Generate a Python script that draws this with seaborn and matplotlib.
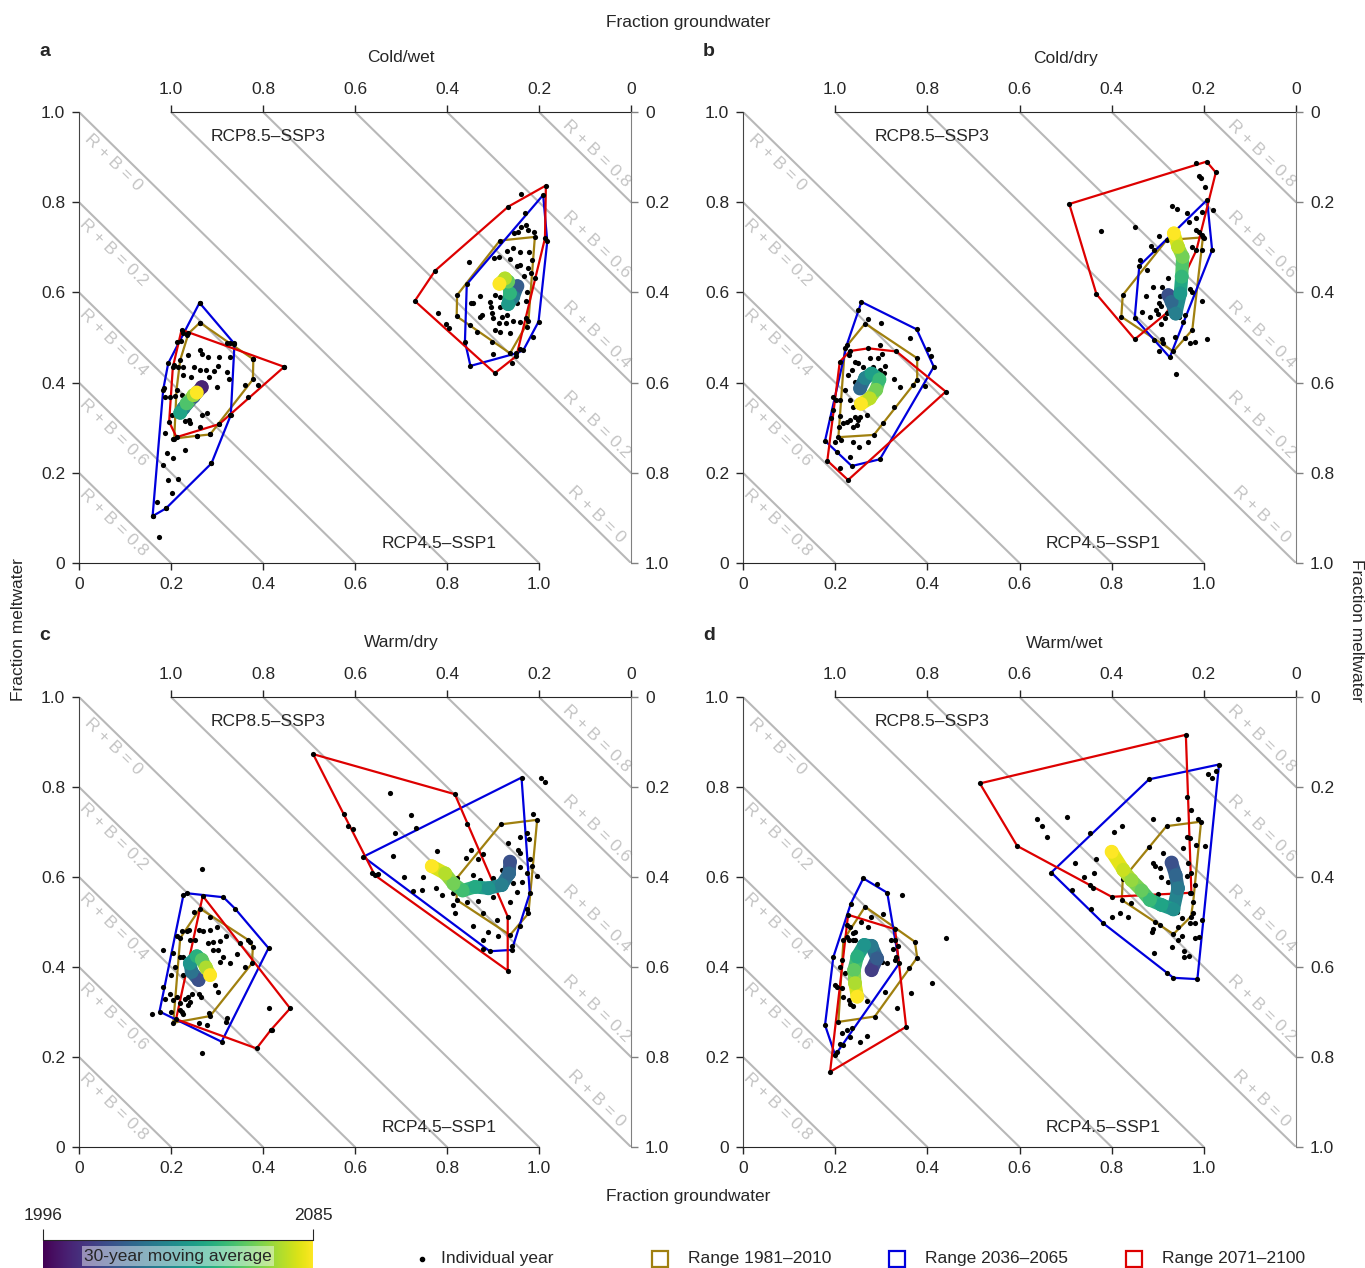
import numpy as np
import pandas as pd
import seaborn as sns
import matplotlib as mpl
import matplotlib.pyplot as plt
from matplotlib.collections import LineCollection
from matplotlib.lines import Line2D
from matplotlib.patches import Rectangle

sns.set_style('ticks')
plt.rcParams['font.family'] = ['Liberation Sans Narrow', 'Liberation Sans', 'DejaVu Sans']

OLIVE = '#a0800f'
BLUE = '#0000dd'
RED = '#dd0000'
GRID = '#b8b8b8'

tick_vals = [0, 0.2, 0.4, 0.6, 0.8, 1.0]
tick_labels = ['0', '0.2', '0.4', '0.6', '0.8', '1.0']
rb_levels = [0, 0.2, 0.4, 0.6, 0.8]
panel_letters = ['a', 'b', 'c', 'd']
panel_titles = ['Cold/wet', 'Cold/dry', 'Warm/dry', 'Warm/wet']

# ---------------- panel a ----------------
a_low_pts = [(0.262, 0.577), (0.263, 0.533), (0.227, 0.509), (0.234, 0.506), (0.212, 0.491), (0.221, 0.492),
             (0.321, 0.487), (0.338, 0.487), (0.379, 0.452), (0.446, 0.435), (0.263, 0.472), (0.267, 0.463),
             (0.281, 0.457), (0.238, 0.461), (0.305, 0.456), (0.328, 0.456), (0.216, 0.434), (0.227, 0.434),
             (0.249, 0.434), (0.262, 0.428), (0.276, 0.428), (0.294, 0.426), (0.302, 0.437), (0.321, 0.424),
             (0.327, 0.407), (0.283, 0.413), (0.243, 0.412), (0.226, 0.417), (0.207, 0.439), (0.185, 0.387),
             (0.187, 0.369), (0.198, 0.368), (0.209, 0.371), (0.223, 0.373), (0.299, 0.391), (0.361, 0.394),
             (0.368, 0.369), (0.390, 0.394), (0.278, 0.332), (0.267, 0.329), (0.240, 0.317), (0.231, 0.314),
             (0.241, 0.310), (0.263, 0.302), (0.256, 0.282), (0.285, 0.285), (0.305, 0.308), (0.328, 0.328),
             (0.205, 0.276), (0.202, 0.329), (0.187, 0.288), (0.191, 0.243), (0.205, 0.232), (0.230, 0.251),
             (0.183, 0.217), (0.288, 0.221), (0.194, 0.184), (0.216, 0.186), (0.202, 0.155), (0.170, 0.136),
             (0.189, 0.121), (0.160, 0.104), (0.174, 0.057)]
a_low_hist = [(0.263, 0.533), (0.328, 0.487), (0.379, 0.452), (0.378, 0.407), (0.285, 0.285), (0.256, 0.282),
              (0.207, 0.276), (0.212, 0.384), (0.220, 0.450), (0.238, 0.509)]
a_low_mid = [(0.262, 0.577), (0.338, 0.486), (0.330, 0.328), (0.288, 0.221), (0.189, 0.121), (0.160, 0.104),
             (0.183, 0.384), (0.194, 0.443)]
a_low_end = [(0.223, 0.517), (0.446, 0.435), (0.305, 0.308), (0.212, 0.279), (0.196, 0.313), (0.204, 0.434)]
a_low_ma = [(2005, 0.267, 0.390), (2020, 0.249, 0.369), (2035, 0.227, 0.343), (2048, 0.220, 0.333),
            (2060, 0.234, 0.354), (2072, 0.249, 0.372), (2085, 0.256, 0.378)]

a_up_pts = [(0.960, 0.819), (0.970, 0.775), (0.972, 0.750), (0.990, 0.733), (0.955, 0.735), (0.977, 0.738),
            (0.960, 0.744), (0.946, 0.731), (0.931, 0.692), (0.944, 0.698), (0.959, 0.689), (0.979, 0.690),
            (0.985, 0.672), (0.902, 0.676), (0.912, 0.679), (0.847, 0.667), (0.936, 0.673), (0.952, 0.658),
            (0.959, 0.661), (0.977, 0.653), (0.982, 0.644), (0.968, 0.636), (0.991, 0.631), (0.872, 0.593),
            (0.857, 0.577), (0.852, 0.576), (0.905, 0.594), (0.915, 0.590), (0.894, 0.579), (0.895, 0.567),
            (0.915, 0.568), (0.937, 0.588), (0.952, 0.576), (0.972, 0.580), (0.973, 0.601), (0.877, 0.550),
            (0.872, 0.545), (0.897, 0.554), (0.900, 0.543), (0.919, 0.546), (0.930, 0.550), (0.914, 0.533),
            (0.928, 0.532), (0.944, 0.537), (0.959, 0.535), (0.781, 0.555), (0.798, 0.530), (0.805, 0.521),
            (0.850, 0.528), (0.866, 0.512), (0.905, 0.517), (0.915, 0.513), (0.937, 0.509), (0.973, 0.524),
            (0.988, 0.502), (0.897, 0.489), (0.900, 0.463), (0.941, 0.443), (0.959, 0.475)]
a_up_hist = [(0.915, 0.715), (0.991, 0.723), (0.977, 0.536), (0.937, 0.465), (0.821, 0.547), (0.822, 0.594)]
a_up_mid = [(1.009, 0.816), (1.018, 0.713), (0.999, 0.535), (0.966, 0.472), (0.951, 0.465), (0.851, 0.437),
            (0.839, 0.491), (0.843, 0.618)]
a_up_end = [(1.015, 0.837), (1.013, 0.720), (0.971, 0.543), (0.951, 0.459), (0.904, 0.421), (0.730, 0.581),
            (0.774, 0.648), (0.933, 0.790)]
a_up_ma = [(2022, 0.953, 0.614), (2033, 0.944, 0.590), (2044, 0.933, 0.574), (2054, 0.937, 0.598),
           (2064, 0.933, 0.624), (2075, 0.926, 0.631), (2085, 0.914, 0.619)]

# ---------------- panel b ----------------
b_low_pts = [(0.250, 0.561), (0.272, 0.542), (0.299, 0.533), (0.297, 0.483), (0.362, 0.500), (0.402, 0.474),
             (0.409, 0.459), (0.231, 0.461), (0.243, 0.446), (0.250, 0.443), (0.275, 0.454), (0.293, 0.454),
             (0.301, 0.463), (0.297, 0.428), (0.308, 0.437), (0.306, 0.422), (0.283, 0.435), (0.261, 0.435),
             (0.236, 0.428), (0.228, 0.417), (0.243, 0.402), (0.254, 0.409), (0.341, 0.390), (0.369, 0.395),
             (0.328, 0.407), (0.395, 0.392), (0.221, 0.384), (0.196, 0.367), (0.202, 0.361), (0.210, 0.361),
             (0.232, 0.361), (0.239, 0.347), (0.268, 0.328), (0.254, 0.324), (0.243, 0.323), (0.232, 0.317),
             (0.225, 0.313), (0.210, 0.326), (0.196, 0.339), (0.192, 0.321), (0.218, 0.310), (0.239, 0.302),
             (0.247, 0.306), (0.250, 0.317), (0.304, 0.310), (0.328, 0.347), (0.209, 0.302), (0.212, 0.273),
             (0.200, 0.269), (0.239, 0.269), (0.252, 0.258), (0.272, 0.269), (0.210, 0.210), (0.232, 0.236),
             (0.203, 0.247)]
b_low_hist = [(0.265, 0.531), (0.378, 0.454), (0.378, 0.406), (0.284, 0.284), (0.207, 0.279), (0.221, 0.476)]
b_low_mid = [(0.257, 0.579), (0.377, 0.518), (0.414, 0.435), (0.297, 0.230), (0.236, 0.215), (0.178, 0.271),
             (0.225, 0.483)]
b_low_end = [(0.232, 0.470), (0.272, 0.476), (0.333, 0.469), (0.440, 0.380), (0.228, 0.184), (0.183, 0.227),
             (0.210, 0.446)]
b_low_ma = [(2026, 0.254, 0.387), (2036, 0.265, 0.410), (2046, 0.279, 0.420), (2056, 0.296, 0.407),
            (2066, 0.289, 0.384), (2076, 0.275, 0.365), (2085, 0.256, 0.353)]

b_up_pts = [(0.984, 0.886), (0.990, 0.858), (0.993, 0.853), (1.002, 0.834), (0.930, 0.792), (0.941, 0.784),
            (0.964, 0.777), (0.968, 0.757), (0.982, 0.764), (0.995, 0.779), (1.020, 0.783), (0.777, 0.737),
            (0.850, 0.744), (0.903, 0.724), (0.982, 0.738), (0.990, 0.735), (0.995, 0.727), (1.000, 0.720),
            (0.885, 0.703), (0.891, 0.695), (0.861, 0.672), (0.975, 0.701), (0.997, 0.694), (0.876, 0.650),
            (0.923, 0.631), (0.890, 0.613), (0.910, 0.612), (0.874, 0.592), (0.904, 0.591), (0.903, 0.576),
            (0.906, 0.569), (0.970, 0.607), (0.975, 0.600), (0.995, 0.582), (0.865, 0.557), (0.884, 0.546),
            (0.897, 0.561), (0.901, 0.551), (0.915, 0.543), (0.908, 0.531), (0.947, 0.546), (0.959, 0.550),
            (0.955, 0.535), (0.937, 0.502), (0.892, 0.495), (0.910, 0.496), (0.912, 0.487), (0.903, 0.469),
            (0.959, 0.500), (0.970, 0.488), (0.981, 0.491), (1.006, 0.496), (0.939, 0.419)]
b_up_hist = [(0.919, 0.716), (0.998, 0.722), (0.975, 0.517), (0.934, 0.469), (0.821, 0.546), (0.824, 0.594)]
b_up_mid = [(1.007, 0.805), (1.018, 0.694), (0.926, 0.456), (0.850, 0.543), (0.860, 0.659)]
b_up_end = [(0.708, 0.796), (1.006, 0.890), (1.026, 0.866), (0.984, 0.694), (0.919, 0.554), (0.850, 0.496),
            (0.767, 0.596)]
b_up_ma = [(2018, 0.923, 0.594), (2026, 0.930, 0.579), (2034, 0.939, 0.553), (2044, 0.949, 0.598),
           (2055, 0.952, 0.635), (2066, 0.954, 0.679), (2076, 0.944, 0.701), (2085, 0.935, 0.731)]

# ---------------- panel c ----------------
c_low_pts = [(0.267, 0.618), (0.250, 0.523), (0.285, 0.512), (0.299, 0.488), (0.285, 0.482), (0.270, 0.481),
             (0.260, 0.482), (0.240, 0.482), (0.234, 0.479), (0.223, 0.479), (0.212, 0.468), (0.241, 0.460),
             (0.252, 0.461), (0.281, 0.454), (0.292, 0.456), (0.307, 0.458), (0.320, 0.469), (0.350, 0.453),
             (0.361, 0.401), (0.372, 0.456), (0.183, 0.438), (0.204, 0.432), (0.220, 0.423), (0.227, 0.423),
             (0.292, 0.438), (0.303, 0.438), (0.312, 0.422), (0.307, 0.412), (0.328, 0.408), (0.343, 0.430),
             (0.209, 0.401), (0.201, 0.382), (0.227, 0.382), (0.249, 0.380), (0.288, 0.386), (0.296, 0.360),
             (0.260, 0.341), (0.265, 0.334), (0.245, 0.341), (0.238, 0.334), (0.230, 0.330), (0.220, 0.319),
             (0.205, 0.327), (0.183, 0.356), (0.187, 0.328), (0.198, 0.341), (0.212, 0.334), (0.220, 0.304),
             (0.238, 0.315), (0.241, 0.323), (0.223, 0.300), (0.201, 0.299), (0.158, 0.295), (0.227, 0.295),
             (0.283, 0.297), (0.303, 0.345), (0.321, 0.286), (0.320, 0.278), (0.260, 0.275), (0.279, 0.271),
             (0.419, 0.260), (0.412, 0.310), (0.267, 0.208)]
c_low_hist = [(0.263, 0.530), (0.368, 0.460), (0.378, 0.445), (0.376, 0.408), (0.285, 0.291), (0.205, 0.276),
              (0.220, 0.464)]
c_low_mid = [(0.234, 0.564), (0.314, 0.555), (0.339, 0.530), (0.412, 0.442), (0.310, 0.234), (0.175, 0.301),
             (0.227, 0.560)]
c_low_end = [(0.269, 0.558), (0.459, 0.308), (0.417, 0.260), (0.386, 0.219), (0.211, 0.284)]
c_low_ma = [(2018, 0.260, 0.371), (2030, 0.245, 0.389), (2042, 0.241, 0.408), (2052, 0.256, 0.424),
            (2062, 0.267, 0.416), (2074, 0.276, 0.399), (2085, 0.285, 0.382)]

c_up_pts = [(1.004, 0.821), (1.013, 0.812), (0.676, 0.786), (0.576, 0.741), (0.584, 0.714), (0.596, 0.706),
            (0.722, 0.738), (0.733, 0.710), (0.687, 0.698), (0.988, 0.740), (0.973, 0.698), (0.959, 0.689),
            (0.979, 0.685), (0.843, 0.718), (0.933, 0.675), (0.955, 0.660), (0.959, 0.654), (0.778, 0.658),
            (0.682, 0.647), (0.852, 0.661), (0.868, 0.640), (0.879, 0.652), (0.841, 0.643), (0.980, 0.641),
            (0.959, 0.623), (0.973, 0.608), (0.995, 0.602), (0.984, 0.624), (0.707, 0.600), (0.747, 0.600),
            (0.776, 0.576), (0.745, 0.572), (0.725, 0.570), (0.790, 0.560), (0.814, 0.565), (0.857, 0.604),
            (0.872, 0.593), (0.901, 0.597), (0.919, 0.615), (0.944, 0.586), (0.962, 0.590), (0.953, 0.567),
            (0.937, 0.545), (0.901, 0.556), (0.868, 0.547), (0.843, 0.545), (0.814, 0.538), (0.817, 0.519),
            (0.879, 0.521), (0.908, 0.504), (0.973, 0.528), (0.857, 0.492), (0.959, 0.491), (0.890, 0.477),
            (0.911, 0.469), (0.878, 0.461), (0.878, 0.439), (0.941, 0.447), (0.638, 0.610), (0.651, 0.606)]
c_up_hist = [(0.917, 0.717), (0.996, 0.727), (0.977, 0.519), (0.937, 0.471), (0.821, 0.549), (0.821, 0.597)]
c_up_mid = [(0.618, 0.645), (0.962, 0.821), (0.980, 0.564), (0.941, 0.438), (0.893, 0.435)]
c_up_end = [(0.509, 0.873), (0.817, 0.784), (0.932, 0.512), (0.932, 0.392), (0.643, 0.604)]
c_up_ma = [(2018, 0.937, 0.634), (2026, 0.935, 0.608), (2034, 0.919, 0.582), (2042, 0.890, 0.575),
           (2050, 0.861, 0.578), (2058, 0.834, 0.570), (2066, 0.814, 0.585), (2075, 0.796, 0.608),
           (2085, 0.767, 0.624)]

# ---------------- panel d ----------------
d_low_pts = [(0.290, 0.584), (0.344, 0.560), (0.440, 0.464), (0.411, 0.365), (0.364, 0.343), (0.335, 0.310),
             (0.303, 0.517), (0.277, 0.512), (0.255, 0.501), (0.272, 0.490), (0.243, 0.478), (0.225, 0.467),
             (0.239, 0.476), (0.229, 0.460), (0.243, 0.460), (0.261, 0.452), (0.322, 0.461), (0.330, 0.460),
             (0.325, 0.441), (0.337, 0.446), (0.333, 0.423), (0.330, 0.415), (0.313, 0.408), (0.301, 0.412),
             (0.361, 0.397), (0.308, 0.345), (0.214, 0.415), (0.210, 0.401), (0.221, 0.386), (0.200, 0.360),
             (0.203, 0.356), (0.214, 0.353), (0.218, 0.334), (0.229, 0.327), (0.232, 0.318), (0.239, 0.313),
             (0.268, 0.324), (0.225, 0.260), (0.214, 0.253), (0.236, 0.264), (0.232, 0.245), (0.210, 0.230),
             (0.218, 0.226), (0.203, 0.212), (0.254, 0.234), (0.268, 0.247), (0.225, 0.493), (0.232, 0.490),
             (0.239, 0.460)]
d_low_hist = [(0.265, 0.534), (0.373, 0.456), (0.378, 0.421), (0.286, 0.290), (0.207, 0.278), (0.218, 0.460)]
d_low_mid = [(0.261, 0.597), (0.313, 0.565), (0.339, 0.408), (0.200, 0.204), (0.178, 0.271), (0.196, 0.422),
             (0.234, 0.541)]
d_low_end = [(0.228, 0.516), (0.330, 0.484), (0.354, 0.267), (0.189, 0.167)]
d_low_ma = [(2012, 0.279, 0.393), (2022, 0.291, 0.419), (2032, 0.279, 0.447), (2042, 0.263, 0.449),
            (2052, 0.248, 0.423), (2063, 0.241, 0.393), (2074, 0.243, 0.364), (2085, 0.248, 0.334)]

d_up_pts = [(1.009, 0.830), (1.027, 0.836), (1.018, 0.819), (0.964, 0.777), (0.973, 0.749), (0.988, 0.728),
            (0.944, 0.728), (0.890, 0.730), (0.823, 0.713), (0.805, 0.699), (0.704, 0.734), (0.637, 0.729),
            (0.648, 0.713), (0.660, 0.688), (0.753, 0.697), (0.963, 0.690), (0.970, 0.686), (0.954, 0.664),
            (0.984, 0.671), (1.002, 0.669), (0.881, 0.667), (0.912, 0.654), (0.934, 0.638), (0.966, 0.632),
            (0.766, 0.639), (0.720, 0.632), (0.889, 0.632), (0.894, 0.624), (0.905, 0.619), (0.908, 0.601),
            (0.923, 0.590), (0.934, 0.586), (0.963, 0.602), (0.973, 0.608), (0.981, 0.582), (0.740, 0.599),
            (0.762, 0.610), (0.753, 0.582), (0.759, 0.575), (0.713, 0.571), (0.901, 0.562), (0.901, 0.538),
            (0.843, 0.543), (0.818, 0.521), (0.800, 0.512), (0.836, 0.512), (0.755, 0.530), (0.941, 0.523),
            (0.952, 0.508), (0.977, 0.521), (0.996, 0.504), (0.981, 0.497), (0.970, 0.497), (0.894, 0.501),
            (0.905, 0.493), (0.944, 0.490), (0.890, 0.484), (0.887, 0.478), (0.944, 0.460), (0.952, 0.468),
            (0.981, 0.464), (0.990, 0.466), (0.892, 0.432), (0.930, 0.445), (0.957, 0.435), (0.968, 0.425),
            (0.958, 0.422), (0.921, 0.386), (0.970, 0.564)]
d_up_hist = [(0.919, 0.713), (0.994, 0.723), (0.977, 0.545), (0.972, 0.512), (0.934, 0.473), (0.822, 0.549),
             (0.824, 0.595)]
d_up_mid = [(0.881, 0.817), (1.033, 0.850), (0.986, 0.373), (0.934, 0.376), (0.782, 0.497), (0.669, 0.610)]
d_up_end = [(0.514, 0.808), (0.961, 0.916), (0.973, 0.565), (0.800, 0.556), (0.595, 0.669)]
d_up_ma = [(2018, 0.930, 0.632), (2025, 0.939, 0.604), (2032, 0.944, 0.575), (2040, 0.934, 0.528),
           (2048, 0.908, 0.538), (2056, 0.883, 0.549), (2064, 0.865, 0.570), (2071, 0.843, 0.593),
           (2078, 0.825, 0.616), (2085, 0.800, 0.656)]

panels = [
    [(a_low_pts, a_low_hist, a_low_mid, a_low_end, a_low_ma), (a_up_pts, a_up_hist, a_up_mid, a_up_end, a_up_ma)],
    [(b_low_pts, b_low_hist, b_low_mid, b_low_end, b_low_ma), (b_up_pts, b_up_hist, b_up_mid, b_up_end, b_up_ma)],
    [(c_low_pts, c_low_hist, c_low_mid, c_low_end, c_low_ma), (c_up_pts, c_up_hist, c_up_mid, c_up_end, c_up_ma)],
    [(d_low_pts, d_low_hist, d_low_mid, d_low_end, d_low_ma), (d_up_pts, d_up_hist, d_up_mid, d_up_end, d_up_ma)],
]

cmap = plt.get_cmap('viridis')
norm = mpl.colors.Normalize(1996, 2085)

W, H = 1365, 1268
fig = plt.figure(figsize=(W / 100, H / 100), dpi=100)

# axes rectangles, from pixel layout of the reference
axes_px = [(79, 112, 552, 451), (743, 112, 553, 451), (79, 697, 552, 450), (743, 697, 553, 450)]
FS = 12.5


def draw_cluster(ax, pts, hist, mid, end, ma):
    for poly, col in ((hist, OLIVE), (mid, BLUE), (end, RED)):
        xs = [p[0] for p in poly] + [poly[0][0]]
        ys = [p[1] for p in poly] + [poly[0][1]]
        ax.plot(xs, ys, color=col, lw=1.6, zorder=2)
    df = pd.DataFrame(pts + hist + mid + end, columns=['x', 'y'])
    sns.scatterplot(data=df, x='x', y='y', ax=ax, color='black', s=14, linewidth=0, zorder=3)
    mdf = pd.DataFrame(ma, columns=['year', 'x', 'y'])
    segs = [[(mdf.x[i], mdf.y[i]), (mdf.x[i + 1], mdf.y[i + 1])] for i in range(len(mdf) - 1)]
    cols = cmap(norm((mdf.year.values[:-1] + mdf.year.values[1:]) / 2))
    ax.add_collection(LineCollection(segs, colors=cols, linewidths=9.5, capstyle='round', zorder=4))
    sns.scatterplot(data=mdf, x='x', y='y', hue='year', palette='viridis', hue_norm=(1996, 2085),
                    s=100, linewidth=0, legend=False, ax=ax, zorder=5)


for k, (left, top, w, h) in enumerate(axes_px):
    ax = fig.add_axes([left / W, 1 - (top + h) / H, w / W, h / H])
    ax.set_xlim(0, 1.2)
    ax.set_ylim(0, 1)

    # R + B reference lines
    for rb in rb_levels:
        ax.axline((0, 1 - rb), slope=-1, color=GRID, lw=1.5, zorder=1)
        ax.axline((0, 1.2 + rb), slope=-1, color=GRID, lw=1.5, zorder=1)
        lx = 0.075
        ax.text(lx, 1 - rb - lx - 0.036, f'R + B = {rb:g}', rotation=-44.4, rotation_mode='anchor',
                ha='center', va='center', color='#c4c4c4', fontsize=FS)
        rx = 1.125
        ax.text(rx, 1.2 + rb - rx + 0.032, f'R + B = {rb:g}', rotation=-44.4, rotation_mode='anchor',
                ha='center', va='center', color='#c4c4c4', fontsize=FS)

    for cl in panels[k]:
        draw_cluster(ax, *cl)
    ax.set_xlabel('')
    ax.set_ylabel('')

    ax.text(0.411, 0.946, 'RCP8.5–SSP3', ha='center', va='center', fontsize=FS)
    ax.text(0.782, 0.044, 'RCP4.5–SSP1', ha='center', va='center', fontsize=FS)

    # bottom / left axes
    for s in ('top', 'right'):
        ax.spines[s].set_visible(False)
    ax.spines['bottom'].set_bounds(0, 1)
    ax.spines['left'].set_bounds(0, 1)
    ax.spines['left'].set_color('#444444')
    ax.set_xticks(tick_vals)
    ax.set_xticklabels(tick_labels)
    ax.set_yticks(tick_vals)
    ax.set_yticklabels(tick_labels)
    ax.tick_params(labelsize=FS, length=5, width=1, pad=5)

    # top axis (reversed groundwater for the upper scenario)
    axt = ax.twiny()
    axt.set_xlim(1.2, 0)
    axt.set_xticks(tick_vals)
    axt.set_xticklabels(tick_labels)
    for s in ('bottom', 'left', 'right'):
        axt.spines[s].set_visible(False)
    axt.spines['top'].set_bounds(0, 1)
    axt.tick_params(labelsize=FS, length=5, width=1, pad=6)

    # right axis (reversed meltwater)
    axr = ax.twinx()
    axr.set_ylim(1, 0)
    axr.set_yticks(tick_vals)
    axr.set_yticklabels(tick_labels)
    for s in ('bottom', 'left', 'top'):
        axr.spines[s].set_visible(False)
    axr.spines['right'].set_bounds(0, 1)
    axr.spines['right'].set_color('#808080')
    axr.tick_params(labelsize=FS, length=5, width=1, pad=5, color='#808080')

    # letters and titles
    fig.text((left - 34) / W, 1 - (top - 61) / H, panel_letters[k], fontsize=14, fontweight='bold',
             ha='center', va='center')
    fig.text((left + 322) / W, 1 - (top - 54) / H, panel_titles[k], fontsize=FS, ha='center', va='center')

fig.text(688 / W, 1 - 22 / H, 'Fraction groundwater', fontsize=FS, ha='center', va='center')
fig.text(688 / W, 1 - 1197 / H, 'Fraction groundwater', fontsize=FS, ha='center', va='center')
fig.text(19 / W, 1 - 630 / H, 'Fraction meltwater', fontsize=FS, ha='center', va='center', rotation=90)
fig.text(1357 / W, 1 - 630 / H, 'Fraction meltwater', fontsize=FS, ha='center', va='center', rotation=270)

# colour bar legend for the moving average
cax = fig.add_axes([43 / W, 1 - 1292 / H, 270 / W, 52 / H])
cax.imshow(np.linspace(0, 1, 256)[None, :], cmap='viridis', aspect='auto', extent=(1996, 2085, 0, 1))
cax.set_xlim(1996, 2085)
cax.set_ylim(0, 1)
cax.xaxis.tick_top()
cax.set_xticks([1996, 2085])
cax.set_xticklabels(['1996', '2085'])
cax.set_yticks([])
cax.tick_params(labelsize=FS, length=8, pad=4)
for s in ('bottom', 'left', 'right'):
    cax.spines[s].set_visible(False)
cax.text(2040.5, 0.69, '30-year moving average', ha='center', va='center', fontsize=FS,
         bbox=dict(boxstyle='square,pad=0.15', fc='white', ec='none', alpha=0.45))

# remaining legend entries
fig.add_artist(Line2D([422 / W], [1 - 1259 / H], marker='o', ms=3, color='black', ls='',
                      transform=fig.transFigure))
fig.text(441 / W, 1 - 1259 / H, 'Individual year', fontsize=FS, va='center')
for x0, col, lab in ((652, OLIVE, 'Range 1981–2010'), (889, BLUE, 'Range 2036–2065'),
                     (1126, RED, 'Range 2071–2100')):
    fig.add_artist(Rectangle((x0 / W, 1 - 1267 / H), 16 / W, 16 / H, fill=False, ec=col, lw=1.6,
                             transform=fig.transFigure))
    fig.text((x0 + 36) / W, 1 - 1259 / H, lab, fontsize=FS, va='center')

fig.savefig('out.png', dpi=100)
